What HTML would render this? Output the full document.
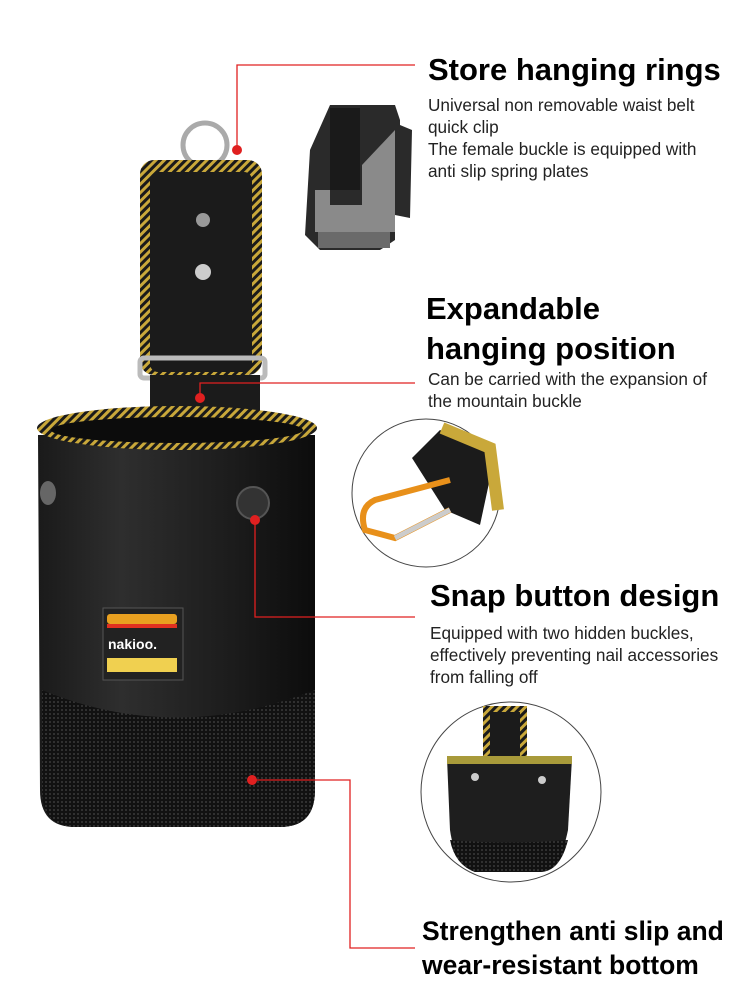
<!DOCTYPE html>
<html><head><meta charset="utf-8"><style>
body{margin:0;width:750px;height:1000px;background:#fff;position:relative;overflow:hidden;font-family:"Liberation Sans",Arial,sans-serif;}
.t{position:absolute;color:#000;white-space:nowrap;}
.h{font-weight:bold;font-size:31px;line-height:38px;}
.s{font-size:17.2px;line-height:22px;color:#222;}
</style></head><body>
<svg width="750" height="1000" style="position:absolute;left:0;top:0">
<defs>
<pattern id="yl" width="6" height="6" patternUnits="userSpaceOnUse" patternTransform="rotate(45)"><rect width="6" height="6" fill="#1a1a1a"/><rect width="3" height="6" fill="#c9a83a"/></pattern>
<pattern id="dt" width="4" height="4" patternUnits="userSpaceOnUse"><rect width="4" height="4" fill="#111"/><circle cx="2" cy="2" r="1" fill="#3a3a3a"/></pattern>
<linearGradient id="bg" x1="0" x2="1"><stop offset="0" stop-color="#1a1a1a"/><stop offset=".3" stop-color="#2e2e2e"/><stop offset=".7" stop-color="#1c1c1c"/><stop offset="1" stop-color="#0c0c0c"/></linearGradient>
</defs>
<circle cx="205" cy="145" r="22" fill="none" stroke="#aaa" stroke-width="5"/>
<rect x="140" y="160" width="122" height="215" rx="14" fill="url(#yl)"/>
<rect x="150" y="172" width="102" height="200" rx="8" fill="#1b1b1b"/>
<circle cx="203" cy="220" r="7" fill="#999"/><circle cx="203" cy="272" r="8" fill="#ccc"/>
<rect x="140" y="358" width="125" height="20" fill="none" stroke="#bbb" stroke-width="5" rx="4"/>
<rect x="150" y="375" width="110" height="45" fill="#1b1b1b"/>
<path d="M38 435 L315 435 L315 790 Q315 827 280 827 L75 827 Q40 827 40 790 Z" fill="url(#bg)"/>
<path d="M42 690 Q175 745 315 690 L315 790 Q315 827 280 827 L75 827 Q42 827 42 790 Z" fill="url(#dt)"/>
<ellipse cx="177" cy="428" rx="140" ry="22" fill="url(#yl)"/>
<ellipse cx="177" cy="430" rx="126" ry="13" fill="#0c0c0c"/>
<ellipse cx="48" cy="493" rx="8" ry="12" fill="#666"/>
<circle cx="253" cy="503" r="16" fill="#333" stroke="#555" stroke-width="2"/>
<rect x="103" y="608" width="80" height="72" fill="#222" stroke="#555"/>
<rect x="107" y="614" width="70" height="10" rx="3" fill="#e8a020"/><rect x="107" y="624" width="70" height="4" fill="#e03020"/>
<rect x="107" y="658" width="70" height="14" fill="#f0d050"/>
<text x="108" y="649" fill="#fff" font-size="14" font-weight="bold" font-family="Liberation Sans">nakioo.</text>
<path d="M330 105 L395 105 L400 120 L400 125 L412 130 L410 218 L395 215 L395 240 L380 250 L320 250 L305 235 L310 150 Z" fill="#2a2a2a"/>
<path d="M330 108 L360 108 L360 190 L330 190 Z" fill="#1a1a1a"/>
<path d="M315 190 L330 190 L330 205 L362 205 L362 165 L395 130 L395 232 L315 232 Z" fill="#8a8a8a"/>
<rect x="318" y="232" width="72" height="16" fill="#6a6a6a"/>
<circle cx="426" cy="493" r="74" fill="#fff" stroke="#444" stroke-width="1"/>
<path d="M412 458 L440 430 L495 455 L480 525 L445 510 Z" fill="#1b1b1b"/>
<path d="M442 428 L490 448 L498 510" stroke="#c9a83a" stroke-width="12" fill="none"/>
<path d="M450 480 L375 500 Q358 508 365 530 L395 538 L450 510" fill="none" stroke="#e8901a" stroke-width="6"/>
<path d="M395 538 L450 510" stroke="#ccc" stroke-width="5"/>
<circle cx="511" cy="792" r="90" fill="#fff" stroke="#444" stroke-width="1"/>
<rect x="483" y="706" width="44" height="52" fill="url(#yl)"/>
<rect x="490" y="712" width="30" height="44" fill="#1b1b1b"/>
<path d="M447 758 L572 758 L568 830 Q560 870 540 872 L475 872 Q455 865 450 830 Z" fill="#1e1e1e"/>
<path d="M447 760 L572 760" stroke="#a89a3a" stroke-width="8"/>
<path d="M450 840 Q510 845 568 840 Q560 872 540 872 L475 872 Q455 865 450 840Z" fill="url(#dt)"/>
<circle cx="475" cy="777" r="4" fill="#ccc"/><circle cx="542" cy="780" r="4" fill="#ccc"/>
<g stroke="#e02020" stroke-width="1.3" fill="none">
<path d="M237 150 L237 65 L415 65"/>
<path d="M200 398 L200 383 L415 383"/>
<path d="M255 520 L255 617 L415 617"/>
<path d="M252 780 L350 780 L350 948 L415 948"/>
</g>
<g fill="#e02020"><circle cx="237" cy="150" r="5"/><circle cx="200" cy="398" r="5"/><circle cx="255" cy="520" r="5"/><circle cx="252" cy="780" r="5"/></g>
</svg>
<div class="t h" style="left:428px;top:51px">Store hanging rings</div>
<div class="t s" style="left:428px;top:94px">Universal non removable waist belt<br>quick clip<br>The female buckle is equipped with<br>anti slip spring plates</div>
<div class="t h" style="left:426px;top:289px;line-height:40px">Expandable<br>hanging position</div>
<div class="t s" style="left:428px;top:368px">Can be carried with the expansion of<br>the mountain buckle</div>
<div class="t h" style="left:430px;top:577px">Snap button design</div>
<div class="t s" style="left:430px;top:622px">Equipped with two hidden buckles,<br>effectively preventing nail accessories<br>from falling off</div>
<div class="t h" style="left:422px;top:914px;font-size:26.5px;line-height:34px">Strengthen anti slip and<br>wear-resistant bottom</div>
</body></html>
